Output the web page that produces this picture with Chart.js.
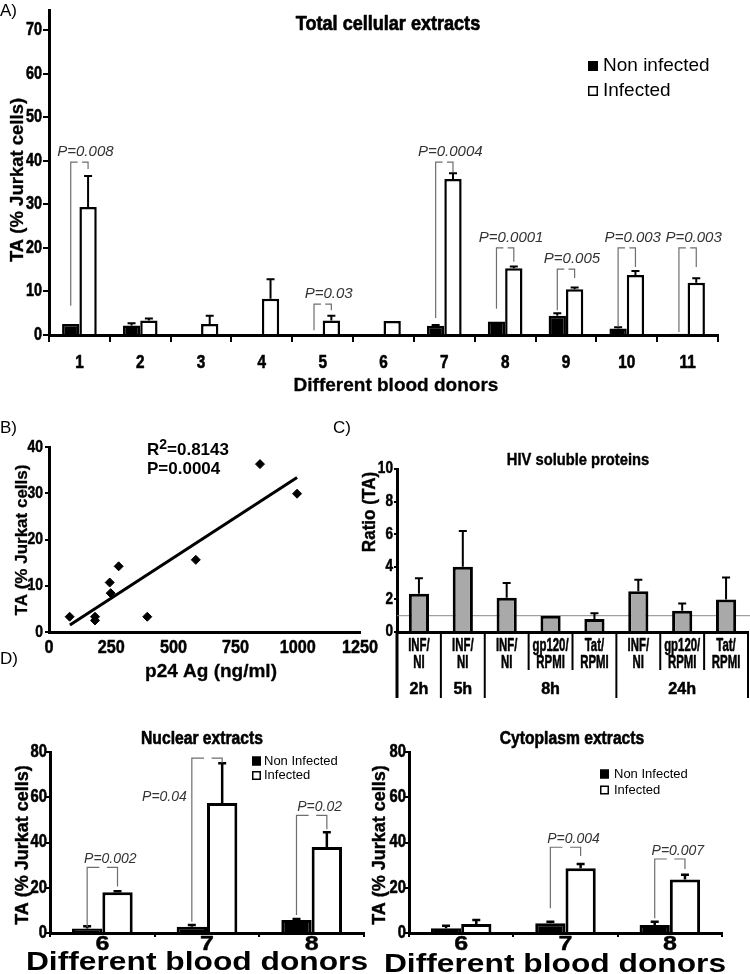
<!DOCTYPE html>
<html>
<head>
<meta charset="utf-8">
<script src="https://cdn.jsdelivr.net/npm/chart.js@4.4.1/dist/chart.umd.min.js"></script>
<style>
  html, body { margin: 0; padding: 0; background: #fff; }
  #page { position: relative; width: 750px; height: 974px; overflow: hidden; background: #fff; }
  #page canvas { position: absolute; }
</style>
</head>
<body>
<div id="page">
  <canvas id="chartA" width="750" height="395" style="left:0;top:0"></canvas>
  <canvas id="chartB" width="385" height="290" style="left:0;top:395px"></canvas>
  <canvas id="chartC" width="405" height="310" style="left:345px;top:395px"></canvas>
  <canvas id="chartD1" width="375" height="329" style="left:0;top:645px"></canvas>
  <canvas id="chartD2" width="390" height="329" style="left:360px;top:645px"></canvas>
</div>
<script>
// --- Data: panel A (total cellular extracts) ---
const seriesNames = ['Non infected', 'Infected'];
const donorsA = ['1', '2', '3', '4', '5', '6', '7', '8', '9', '10', '11'];
const nonInfA = [2.5, 2.2, 0.1, 0.2, 0.2, 0, 2.1, 3.1, 4.4, 1.5, 0.3];
const nonInfErrA = [0, 0.5, 0, 0, 0, 0, 0.2, 0, 0.6, 0.3, 0];
const infA = [29.4, 3.3, 2.5, 8.3, 3.3, 3.2, 35.8, 15.3, 10.5, 13.8, 12.0];
const infErrA = [7.1, 0.5, 1.9, 4.5, 1.1, 0, 1.3, 0.4, 0.4, 0.9, 1.0];
const ticksA = [0, 10, 20, 30, 40, 50, 60, 70];
// p-value brackets: donor index, text, bracket top, left foot, right foot
const pIdxA = [0, 4, 6, 7, 8, 9, 10];
const pTextA = ['P=0.008', 'P=0.03', 'P=0.0004', 'P=0.0001', 'P=0.005', 'P=0.003', 'P=0.003'];
const pTopA = [39.7, 7.1, 39.7, 20, 15.1, 20, 20];
const pLeftA = [6.7, 1.1, 3.9, 6.0, 5.7, 1.9, 0.7];
const pRightA = [38.1, 5.7, 37.4, 16.8, 13.1, 15.6, 15.6];

// --- Data: panel B (correlation) ---
const p24B = [83, 185, 185, 244, 248, 280, 395, 590, 848, 997];
const taB = [3.3, 3.3, 2.5, 10.7, 8.4, 14.2, 3.3, 15.6, 36.3, 29.9];
const fitX = [84, 997];
const fitY = [1.5, 33.4];
const ticksBx = [0, 250, 500, 750, 1000, 1250];
const ticksBy = [0, 10, 20, 30, 40];

// --- Data: panel C (HIV soluble proteins) ---
const hivLabels = [['INF/', 'NI'], ['INF/', 'NI'], ['INF/', 'NI'], ['gp120/', 'RPMI'], ['Tat/', 'RPMI'],
                   ['INF/', 'NI'], ['gp120/', 'RPMI'], ['Tat/', 'RPMI']];
const hivRatio = [2.35, 4.0, 2.1, 1.0, 0.8, 2.5, 1.3, 2.0];
const hivErr = [0.95, 2.2, 0.9, 0, 0.35, 0.7, 0.45, 1.35];
const timeLabels = ['2h', '5h', '8h', '24h'];
const timeSpans = [1, 1, 3, 3];
const ticksC = [0, 2, 4, 6, 8, 10];
const refRatio = 1;

// --- Data: panel D (nuclear / cytoplasm extracts) ---
const legendD = ['Non Infected', 'Infected'];
const donorsD = ['6', '7', '8'];
const nucNon = [2.0, 2.8, 5.8];
const nucNonErr = [1.0, 0.7, 0.4];
const nucInf = [18.0, 57.5, 38.0];
const nucInfErr = [0.4, 17.5, 6.5];
const cytNon = [2.1, 4.3, 3.5];
const cytNonErr = [1.1, 0.7, 1.5];
const cytInf = [4.0, 28.6, 23.6];
const cytInfErr = [1.7, 1.9, 2.2];
const ticksD = [0, 20, 40, 60, 80];
const pIdxNuc = [0, 1, 2];
const pTextNuc = ['P=0.002', 'P=0.04', 'P=0.02'];
const pTopNuc = [29, 77.3, 52];
const pLeftNuc = [2.5, 5, 8];
const pRightNuc = [20.5, 75.3, 45.9];
const pTextAtNuc = [null, 60, null];
const pIdxCyt = [1, 2];
const pTextCyt = ['P=0.004', 'P=0.007'];
const pTopCyt = [37.9, 32.7];
const pLeftCyt = [10.9, 6.5];
const pRightCyt = [34, 28.3];

const SANS = '"Liberation Sans", Arial, sans-serif';
const UP = -Math.PI / 2;

Chart.defaults.font.family = SANS;
Chart.defaults.color = '#000';
Chart.defaults.animation = false;
Chart.defaults.plugins.legend.display = false;
Chart.defaults.plugins.tooltip.enabled = false;

// text with horizontal squeeze / stretch (the figure uses condensed heavy type)
function drawText(ctx, text, x, y, font, align, sx, rot, heavy) {
    ctx.save();
    ctx.translate(x, y);
    if (rot) ctx.rotate(rot);
    ctx.scale(sx || 1, 1);
    ctx.font = font;
    ctx.fillStyle = '#000';
    ctx.textAlign = align || 'center';
    ctx.textBaseline = 'middle';
    ctx.fillText(text, 0, 0);
    if (heavy) {
        ctx.strokeStyle = '#000';
        ctx.lineWidth = heavy;
        ctx.lineJoin = 'round';
        ctx.strokeText(text, 0, 0);
    }
    ctx.restore();
}

// Error bars (upper half only, with a cap)
const errorBars = {
    id: 'errorBars',
    afterDatasetsDraw(chart, args, opts) {
        const ctx = chart.ctx;
        const y = chart.scales.y;
        chart.data.datasets.forEach((ds, i) => {
            if (!ds.errUp) return;
            chart.getDatasetMeta(i).data.forEach((bar, j) => {
                const e = ds.errUp[j];
                if (!e) return;
                const y0 = y.getPixelForValue(ds.data[j]);
                const y1 = y.getPixelForValue(ds.data[j] + e);
                const c = (opts.cap || 8) / 2;
                ctx.save();
                ctx.strokeStyle = '#000';
                ctx.lineWidth = opts.width || 2;
                ctx.beginPath();
                ctx.moveTo(bar.x, y0);
                ctx.lineTo(bar.x, y1);
                ctx.moveTo(bar.x - c, y1);
                ctx.lineTo(bar.x + c, y1);
                ctx.stroke();
                ctx.restore();
            });
        });
    }
};

// Significance brackets between the two bars of a donor
const brackets = {
    id: 'brackets',
    afterDatasetsDraw(chart, args, opts) {
        if (!opts.idx) return;
        const ctx = chart.ctx;
        const y = chart.scales.y;
        const m0 = chart.getDatasetMeta(0);
        const m1 = chart.getDatasetMeta(1);
        opts.idx.forEach((k, n) => {
            const xl = m0.data[k].x;
            const xr = m1.data[k].x;
            const yt = y.getPixelForValue(opts.top[n]);
            ctx.save();
            ctx.strokeStyle = '#6e6e6e';
            ctx.lineWidth = 1.2;
            ctx.beginPath();
            ctx.moveTo(xl, y.getPixelForValue(opts.left[n]));
            ctx.lineTo(xl, yt);
            ctx.lineTo(xl + (xr - xl) * 0.4, yt);
            ctx.moveTo(xl + (xr - xl) * 0.65, yt);
            ctx.lineTo(xr, yt);
            ctx.lineTo(xr, y.getPixelForValue(opts.right[n]));
            ctx.stroke();
            ctx.fillStyle = '#333';
            ctx.font = opts.font;
            ctx.textBaseline = 'middle';
            const at = opts.textAt ? opts.textAt[n] : null;
            if (at !== null && at !== undefined) {
                ctx.textAlign = 'right';
                ctx.fillText(opts.text[n], xl - 5, y.getPixelForValue(at));
            } else {
                ctx.textAlign = 'center';
                ctx.fillText(opts.text[n], (xl + xr) / 2 + opts.dx, yt - opts.lift);
            }
            ctx.restore();
        });
    }
};

// Tick labels drawn by hand so they can be condensed like the original
const tickText = {
    id: 'tickText',
    afterDraw(chart, args, opts) {
        const ctx = chart.ctx;
        const sx = chart.scales.x;
        const sy = chart.scales.y;
        if (opts.x) {
            const o = opts.x;
            sx.ticks.forEach((t, i) => {
                const lab = sx.type === 'category' ? chart.data.labels[t.value] : String(t.value);
                const lines = Array.isArray(lab) ? lab : [lab];
                const px = sx.getPixelForTick(i);
                lines.forEach((ln, k) => drawText(ctx, ln, px, sx.top + o.gap + k * (o.lh || 0), o.font, 'center', o.sx, 0, o.heavy));
            });
        }
        if (opts.y) {
            const o = opts.y;
            sy.ticks.forEach(t => {
                drawText(ctx, String(t.value), sy.right - o.gap, sy.getPixelForValue(t.value), o.font, 'right', o.sx, 0, o.heavy);
            });
        }
    }
};

// Free text (titles, panel letters) in page coordinates
const labels = {
    id: 'labels',
    afterDraw(chart, args, opts) {
        if (!opts.items) return;
        const ctx = chart.ctx;
        const [ox, oy] = opts.origin;
        opts.items.forEach(t => {
            if (t.parts) {
                let x = t.x - ox;
                t.parts.forEach(p => {
                    drawText(ctx, p.text, x, t.y - oy + (p.dy || 0), p.font, 'left', 1);
                    ctx.font = p.font;
                    x += ctx.measureText(p.text).width;
                });
            } else {
                drawText(ctx, t.text, t.x - ox, t.y - oy, t.font, t.align, t.sx, t.rot, t.heavy);
            }
        });
    }
};

// Square-box legend
const boxLegend = {
    id: 'boxLegend',
    afterDraw(chart, args, opts) {
        if (!opts.x) return;
        const ctx = chart.ctx;
        const [ox, oy] = opts.origin;
        chart.data.datasets.forEach((ds, n) => {
            const x = opts.x - ox;
            const y = opts.y - oy + n * opts.gap;
            const s = opts.size;
            ctx.save();
            ctx.fillStyle = ds.backgroundColor;
            ctx.fillRect(x, y - s / 2, s, s);
            ctx.strokeStyle = '#000';
            ctx.lineWidth = 1.5;
            ctx.strokeRect(x + 0.75, y - s / 2 + 0.75, s - 1.5, s - 1.5);
            ctx.restore();
            drawText(ctx, ds.label, x + s + opts.pad, y, opts.font, 'left', 1);
        });
    }
};

// Reference line at ratio 1 (panel C)
const refLine = {
    id: 'refLine',
    beforeDatasetsDraw(chart, args, opts) {
        if (opts.value === undefined) return;
        const ctx = chart.ctx;
        const yp = chart.scales.y.getPixelForValue(opts.value);
        ctx.save();
        ctx.strokeStyle = '#8a8a8a';
        ctx.lineWidth = 1;
        ctx.beginPath();
        ctx.moveTo(chart.chartArea.left, yp);
        ctx.lineTo(chart.width, yp);
        ctx.stroke();
        ctx.restore();
    }
};

// Time table under panel C
const timeTable = {
    id: 'timeTable',
    afterDraw(chart, args, opts) {
        if (!opts.spans) return;
        const ctx = chart.ctx;
        const xs = chart.scales.x;
        const n = chart.data.labels.length;
        const w = (xs.right - xs.left) / n;
        const full = [0];
        opts.spans.reduce((a, s) => { full.push(a + s); return a + s; }, 0);
        ctx.save();
        ctx.strokeStyle = '#000';
        for (let k = 0; k <= n; k++) {
            const x = xs.left + k * w;
            ctx.lineWidth = k === 0 ? 3 : 2;
            ctx.beginPath();
            ctx.moveTo(x, xs.top);
            ctx.lineTo(x, xs.top + (full.includes(k) ? opts.fullLen : opts.shortLen));
            ctx.stroke();
        }
        ctx.restore();
        opts.labels.forEach((lab, g) => {
            drawText(ctx, lab, xs.left + (full[g] + full[g + 1]) / 2 * w, xs.top + opts.rowY, opts.font, 'center', opts.sx, 0, opts.heavy);
        });
    }
};

const PLUGINS = [errorBars, brackets, tickText, labels, boxLegend, refLine, timeTable];

function fixY(width) {
    return s => { s.width = width; s.paddingTop = 0; s.paddingBottom = 0; };
}
function fixX(height) {
    return s => { s.height = height; s.paddingLeft = 0; s.paddingRight = 0; };
}
function setTicks(values) {
    return s => { s.ticks = values.map(v => ({ value: v })); };
}
function yAxis(min, max, ticks, width, tickLen) {
    return {
        min: min, max: max,
        afterBuildTicks: setTicks(ticks),
        grid: { drawOnChartArea: false, tickLength: tickLen, color: '#000', lineWidth: 2 },
        border: { width: 3, color: '#000' },
        ticks: { display: false },
        afterFit: fixY(width)
    };
}
function catAxis(height, tickLen) {
    return {
        offset: true,
        grid: tickLen ? { offset: true, drawOnChartArea: false, tickLength: tickLen, color: '#000', lineWidth: 2 }
                      : { display: false },
        border: { width: 3, color: '#000' },
        ticks: { display: false },
        afterFit: fixX(height)
    };
}

// ===== Panel A =====
new Chart(document.getElementById('chartA'), {
    type: 'bar',
    data: {
        labels: donorsA,
        datasets: [
            { label: seriesNames[0], data: nonInfA, errUp: nonInfErrA, backgroundColor: '#000', borderColor: '#000', borderWidth: 2.5 },
            { label: seriesNames[1], data: infA, errUp: infErrA, backgroundColor: '#fff', borderColor: '#000', borderWidth: 2.5 }
        ]
    },
    options: {
        responsive: false,
        devicePixelRatio: 1,
        layout: { padding: { top: 10, left: 0, right: 32, bottom: 0 } },
        datasets: { bar: { categoryPercentage: 0.57, barPercentage: 1 } },
        scales: {
            x: catAxis(60, 7),
            y: yAxis(0, 74.6, ticksA, 49, 6)
        },
        plugins: {
            errorBars: { cap: 8, width: 2 },
            brackets: { idx: pIdxA, text: pTextA, top: pTopA, left: pLeftA, right: pRightA,
                        font: 'italic 15px ' + SANS, dx: 6, lift: 10 },
            tickText: {
                x: { gap: 28, font: 'bold 18px ' + SANS, sx: 0.85, heavy: 0.6 },
                y: { gap: 7, font: 'bold 18px ' + SANS, sx: 0.8, heavy: 0.6 }
            },
            labels: { origin: [0, 0], items: [
                { text: 'A)', x: 0, y: 11, align: 'left', font: '17px ' + SANS },
                { text: 'Total cellular extracts', x: 388, y: 24, font: 'bold 21px ' + SANS, sx: 0.86, heavy: 0.7 },
                { text: 'Different blood donors', x: 396, y: 386, font: 'bold 19px ' + SANS, heavy: 0.3 },
                { text: 'TA (% Jurkat cells)', x: 18, y: 180, font: 'bold 18.5px ' + SANS, rot: UP, heavy: 0.3 }
            ] },
            boxLegend: { origin: [0, 0], x: 588, y: 66, gap: 25, size: 10, pad: 5, font: '19px ' + SANS }
        }
    },
    plugins: PLUGINS
});

// ===== Panel B =====
new Chart(document.getElementById('chartB'), {
    type: 'scatter',
    data: {
        datasets: [
            { data: p24B.map((x, i) => ({ x: x, y: taB[i] })), pointStyle: 'rectRot', pointRadius: 4.5,
              backgroundColor: '#000', borderColor: '#000' },
            { type: 'line', data: fitX.map((x, i) => ({ x: x, y: fitY[i] })), borderColor: '#000', borderWidth: 3,
              pointRadius: 0, showLine: true, fill: false }
        ]
    },
    options: {
        responsive: false,
        devicePixelRatio: 1,
        layout: { padding: { top: 52, left: 0, right: 25, bottom: 0 } },
        scales: {
            x: {
                type: 'linear', min: 0, max: 1250,
                afterBuildTicks: setTicks(ticksBx),
                grid: { display: false },
                border: { width: 3, color: '#000' },
                ticks: { display: false },
                afterFit: fixX(53)
            },
            y: yAxis(0, 40, ticksBy, 49, 4)
        },
        plugins: {
            tickText: {
                x: { gap: 16, font: 'bold 18px ' + SANS, sx: 0.9, heavy: 0.5 },
                y: { gap: 6, font: 'bold 17px ' + SANS, sx: 0.82, heavy: 0.5 }
            },
            labels: { origin: [0, 395], items: [
                { text: 'B)', x: 0, y: 428, align: 'left', font: '17px ' + SANS },
                { text: 'C)', x: 333, y: 428, align: 'left', font: '17px ' + SANS },
                { x: 147, y: 450, parts: [
                    { text: 'R', font: 'bold 17px ' + SANS },
                    { text: '2', font: 'bold 14px ' + SANS, dy: -5 },
                    { text: '=0.8143', font: 'bold 17px ' + SANS }
                ] },
                { text: 'P=0.0004', x: 147, y: 469, align: 'left', font: 'bold 17px ' + SANS },
                { text: 'p24 Ag (ng/ml)', x: 211, y: 672, font: 'bold 19px ' + SANS, heavy: 0.3 },
                { text: 'TA (% Jurkat cells)', x: 22, y: 540, font: 'bold 17px ' + SANS, rot: UP, heavy: 0.3 }
            ] }
        }
    },
    plugins: PLUGINS
});

// ===== Panel C =====
new Chart(document.getElementById('chartC'), {
    type: 'bar',
    data: {
        labels: hivLabels,
        datasets: [
            { label: 'Ratio', data: hivRatio, errUp: hivErr, backgroundColor: '#a9a9a9', borderColor: '#000', borderWidth: 3 }
        ]
    },
    options: {
        responsive: false,
        devicePixelRatio: 1,
        layout: { padding: { top: 74, left: 0, right: 2, bottom: 0 } },
        datasets: { bar: { categoryPercentage: 0.46, barPercentage: 1 } },
        scales: {
            x: catAxis(73, 0),
            y: yAxis(0, 10, ticksC, 52, 3)
        },
        plugins: {
            errorBars: { cap: 8, width: 2 },
            refLine: { value: refRatio },
            tickText: {
                x: { gap: 14, lh: 17, font: 'bold 19px ' + SANS, sx: 0.6, heavy: 0.6 },
                y: { gap: 4, font: 'bold 16px ' + SANS, sx: 0.85, heavy: 0.5 }
            },
            timeTable: { spans: timeSpans, labels: timeLabels, fullLen: 66, shortLen: 38, rowY: 57,
                         font: 'bold 17px ' + SANS, sx: 0.95, heavy: 0.5 },
            labels: { origin: [345, 395], items: [
                { text: 'HIV soluble proteins', x: 578, y: 461, font: 'bold 16px ' + SANS, sx: 0.92, heavy: 0.4 },
                { text: 'Ratio (TA)', x: 370, y: 512, font: 'bold 18px ' + SANS, sx: 0.95, rot: UP, heavy: 0.4 }
            ] }
        }
    },
    plugins: PLUGINS
});

// ===== Panel D (two charts) =====
function panelD(id, left, non, nonErr, inf, infErr, br, extra) {
    return new Chart(document.getElementById(id), {
        type: 'bar',
        data: {
            labels: donorsD,
            datasets: [
                { label: legendD[0], data: non, errUp: nonErr, backgroundColor: '#000', borderColor: '#000', borderWidth: 3 },
                { label: legendD[1], data: inf, errUp: infErr, backgroundColor: '#fff', borderColor: '#000', borderWidth: 3 }
            ]
        },
        options: {
            responsive: false,
            devicePixelRatio: 1,
            layout: { padding: { top: 107, left: 0, right: extra.right, bottom: 0 } },
            datasets: { bar: { categoryPercentage: 0.58, barPercentage: 1 } },
            scales: {
                x: catAxis(41, 4),
                y: yAxis(0, 80, ticksD, extra.yWidth, 4)
            },
            plugins: {
                errorBars: { cap: 8, width: 2.5 },
                brackets: Object.assign({ font: 'italic 14px ' + SANS, dx: 8, lift: 8 }, br),
                tickText: {
                    x: { gap: 11, font: 'bold 20px ' + SANS, sx: 1.25, heavy: 0.4 },
                    y: { gap: 3, font: 'bold 18px ' + SANS, sx: 0.82, heavy: 0.6 }
                },
                labels: { origin: [left, 645], items: extra.texts },
                boxLegend: Object.assign({ origin: [left, 645], size: 9, font: '13px ' + SANS }, extra.legend)
            }
        },
        plugins: PLUGINS
    });
}

panelD('chartD1', 0, nucNon, nucNonErr, nucInf, nucInfErr,
    { idx: pIdxNuc, text: pTextNuc, top: pTopNuc, left: pLeftNuc, right: pRightNuc, textAt: pTextAtNuc },
    { right: 11, yWidth: 50,
      legend: { x: 252, y: 761, gap: 14.5, pad: 3 },
      texts: [
          { text: 'D)', x: 0, y: 659, align: 'left', font: '17px ' + SANS },
          { text: 'Nuclear extracts', x: 202, y: 739, font: 'bold 18px ' + SANS, sx: 0.87, heavy: 0.6 },
          { text: 'Different blood donors', x: 197, y: 963, font: 'bold 25px ' + SANS, sx: 1.27 },
          { text: 'TA (% Jurkat cells)', x: 23, y: 845, font: 'bold 18px ' + SANS, rot: UP, heavy: 0.4 }
      ] });

panelD('chartD2', 360, cytNon, cytNonErr, cytInf, cytInfErr,
    { idx: pIdxCyt, text: pTextCyt, top: pTopCyt, left: pLeftCyt, right: pRightCyt },
    { right: 28, yWidth: 49,
      legend: { x: 600, y: 774, gap: 16, pad: 5 },
      texts: [
          { text: 'Cytoplasm extracts', x: 572, y: 739, font: 'bold 18px ' + SANS, sx: 0.87, heavy: 0.6 },
          { text: 'Different blood donors', x: 555, y: 965, font: 'bold 25px ' + SANS, sx: 1.27 },
          { text: 'TA (% Jurkat cells)', x: 380, y: 845, font: 'bold 18px ' + SANS, rot: UP, heavy: 0.4 }
      ] });
</script>
</body>
</html>
